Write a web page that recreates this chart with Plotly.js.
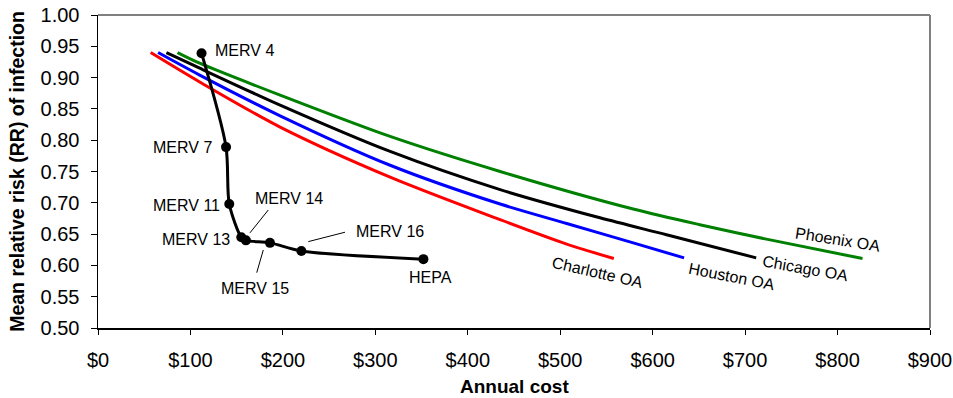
<!DOCTYPE html>
<html>
<head>
<meta charset="utf-8">
<script src="https://cdn.plot.ly/plotly-3.0.1.min.js"></script>
<style>html,body{margin:0;padding:0;background:#fff;}#chart{width:953px;height:398px;}</style>
</head>
<body>
<div id="chart"></div>
<script>
// ---- Data ----
const charlotteCost = [57, 110, 197, 316, 435, 507, 558];
const charlotteRR   = [0.940, 0.893, 0.821, 0.741, 0.673, 0.634, 0.611];

const houstonCost = [65, 110, 197, 316, 435, 507, 579, 634];
const houstonRR   = [0.940, 0.904, 0.839, 0.760, 0.698, 0.667, 0.636, 0.612];

const chicagoCost = [74, 110, 197, 316, 435, 543, 615, 712];
const chicagoRR   = [0.940, 0.915, 0.856, 0.782, 0.721, 0.676, 0.649, 0.612];

const phoenixCost = [86, 110, 197, 316, 435, 579, 651, 723, 827];
const phoenixRR   = [0.940, 0.923, 0.872, 0.806, 0.750, 0.690, 0.665, 0.642, 0.611];

const filterNames = ['MERV 4', 'MERV 7', 'MERV 11', 'MERV 13', 'MERV 14', 'MERV 15', 'MERV 16', 'HEPA'];
const filterCost  = [112, 138.5, 142, 155, 160, 186, 220, 352];
const filterRR    = [0.939, 0.789, 0.698, 0.645, 0.640, 0.636, 0.623, 0.610];

const xTickVals = [0, 100, 200, 300, 400, 500, 600, 700, 800, 900];
const xTickText = ['$0', '$100', '$200', '$300', '$400', '$500', '$600', '$700', '$800', '$900'];
const yTickVals = [0.50, 0.55, 0.60, 0.65, 0.70, 0.75, 0.80, 0.85, 0.90, 0.95, 1.00];

// ---- Label placement (text positions, not data) ----
const filterLabelPos = [
  {x: 124, y: 0.944, xa: 'left'},
  {x: 126, y: 0.789, xa: 'right'},
  {x: 134, y: 0.695, xa: 'right'},
  {x: 145, y: 0.641, xa: 'right'},
  {x: 206.6, y: 0.707, xa: 'center'},
  {x: 170.2, y: 0.563, xa: 'center'},
  {x: 315.6, y: 0.654, xa: 'center'},
  {x: 359.7, y: 0.581, xa: 'center'}
];
const leaders = [
  [184.2, 0.6885, 164.4, 0.652],
  [178.8, 0.6246, 171.7, 0.5884],
  [267.2, 0.653, 227.5, 0.638]
];
const oaLabels = [
  {text: 'Phoenix OA', x: 800.5, y: 0.642, a: 9},
  {text: 'Chicago OA', x: 765.5, y: 0.595, a: 10},
  {text: 'Houston OA', x: 685.5, y: 0.583, a: 11},
  {text: 'Charlotte OA', x: 540.1, y: 0.588, a: 13}
];

const FONT = 'Liberation Sans, Arial, sans-serif';

function oa(x, y, color) {
  return {x: x, y: y, type: 'scatter', mode: 'lines',
    line: {color: color, width: 3, shape: 'spline', smoothing: 0.8},
    hoverinfo: 'skip', showlegend: false};
}

const traces = [
  oa(charlotteCost, charlotteRR, '#ff0000'),
  oa(houstonCost, houstonRR, '#0000ff'),
  oa(chicagoCost, chicagoRR, '#000000'),
  oa(phoenixCost, phoenixRR, '#008000'),
  {x: filterCost, y: filterRR, text: filterNames, type: 'scatter', mode: 'lines+markers',
   line: {color: '#000000', width: 3, shape: 'spline', smoothing: 0.8},
   marker: {color: '#000000', size: 10},
   hoverinfo: 'skip', showlegend: false}
];

const annotations = [];
filterNames.forEach(function (n, i) {
  const p = filterLabelPos[i];
  annotations.push({x: p.x, y: p.y, xref: 'x', yref: 'y', text: n, showarrow: false,
    xanchor: p.xa, yanchor: 'middle', font: {family: FONT, size: 16, color: '#000'}});
});
oaLabels.forEach(function (l) {
  annotations.push({x: l.x, y: l.y, xref: 'x', yref: 'y', text: l.text, showarrow: false,
    textangle: l.a, xanchor: 'center', yanchor: 'middle', font: {family: FONT, size: 16, color: '#000'}});
});
// x-axis title, placed as an annotation for exact vertical position
annotations.push({x: 0.5, y: -0.187, xref: 'paper', yref: 'paper', text: '<b>Annual cost</b>',
  showarrow: false, xanchor: 'center', yanchor: 'middle', borderpad: 0,
  font: {family: FONT, size: 19, color: '#000'}});

const shapes = leaders.map(function (s) {
  return {type: 'line', xref: 'x', yref: 'y', x0: s[0], y0: s[1], x1: s[2], y1: s[3],
    line: {color: '#000', width: 1}};
});
shapes.push({type: 'line', xref: 'paper', yref: 'paper', x0: 0, y0: 1, x1: 1, y1: 1, line: {color: '#808080', width: 2}});
shapes.push({type: 'line', xref: 'paper', yref: 'paper', x0: 1, y0: 0, x1: 1, y1: 1, line: {color: '#808080', width: 2}});

const layout = {
  width: 953, height: 398,
  margin: {l: 98, r: 23, t: 15, b: 70},
  paper_bgcolor: '#fff', plot_bgcolor: '#fff',
  font: {family: FONT, color: '#000'},
  xaxis: {
    range: [0, 900], tickvals: xTickVals, ticktext: xTickText,
    showgrid: false, zeroline: false, showline: true, linecolor: '#000', linewidth: 1.5,
    ticks: 'outside', ticklen: 5, tickcolor: '#000', tickwidth: 1,
    ticklabelstandoff: 8,
    tickfont: {family: FONT, size: 20, color: '#000'}
  },
  yaxis: {
    range: [0.50, 1.00], tickvals: yTickVals, tickformat: '.2f',
    showgrid: false, zeroline: false, showline: true, linecolor: '#000', linewidth: 1.5,
    ticks: 'outside', ticklen: 6, tickcolor: '#000', tickwidth: 1,
    ticklabelstandoff: 7,
    tickfont: {family: FONT, size: 20, color: '#000'},
    title: {text: '<b>Mean relative risk (RR) of infection</b>', font: {family: FONT, size: 19.5, color: '#000'}, standoff: 10}
  },
  annotations: annotations,
  shapes: shapes
};

Plotly.newPlot('chart', traces, layout, {displayModeBar: false, staticPlot: true});
</script>
</body>
</html>
